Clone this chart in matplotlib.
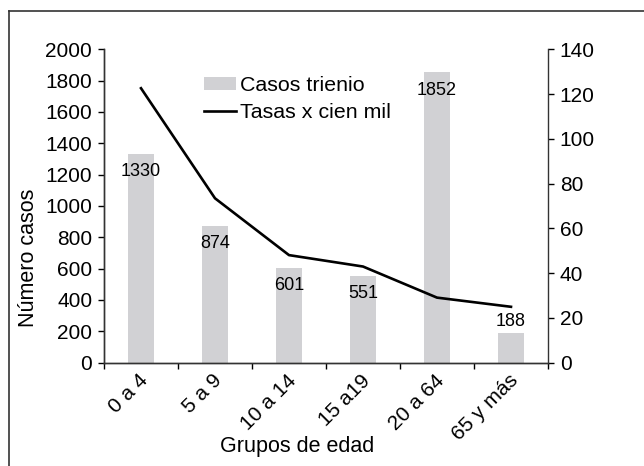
import matplotlib
matplotlib.use('Agg')
import matplotlib.pyplot as plt
import matplotlib.transforms as mtransforms
import numpy as np

plt.rcParams['font.family'] = ['Liberation Sans', 'DejaVu Sans']

# data
grupos = ["0 a 4", "5 a 9", "10 a 14", "15 a19", "20 a 64", "65 y más"]
casos = [1330, 874, 601, 551, 1852, 188]
tasas = [122.6, 73.4, 48.0, 42.9, 29.0, 24.9]

fig = plt.figure(figsize=(6.44, 4.66), dpi=100)
ax = fig.add_axes([104 / 644, 1 - 362.5 / 466, 444 / 644, 313.2 / 466])
ax2 = ax.twinx()

x = np.arange(len(grupos))
ax.bar(x, casos, width=0.36, color='#d1d1d4', label='Casos trienio', zorder=1)
ax2.plot(x, tasas, color='black', linewidth=1.9, label='Tasas x cien mil')

for xi, v in zip(x, casos):
    if v > 300:
        ax.annotate(str(v), (xi, v), xytext=(0, -6.5), textcoords='offset points',
                    ha='center', va='top', fontsize=13)
    else:
        ax.annotate(str(v), (xi, v), xytext=(0, 2), textcoords='offset points',
                    ha='center', va='bottom', fontsize=13)

ax.set_xlim(-0.5, 5.5)
ax.set_ylim(0, 2000)
ax2.set_ylim(0, 140)
ax.set_yticks(range(0, 2001, 200))
ax2.set_yticks(range(0, 141, 20))

# tick marks at category borders, labels at centres
ax.set_xticks(x)
ax.set_xticks(np.arange(-0.5, 6, 1), minor=True)
ax.tick_params(axis='x', which='major', length=0, pad=6)
ax.tick_params(axis='x', which='minor', length=4.5, width=1, direction='out')
ax.set_xticklabels(grupos, rotation=45, ha='right', fontsize=15)
offset = mtransforms.ScaledTranslation(11 / 100, 0, fig.dpi_scale_trans)
for lbl in ax.get_xticklabels():
    lbl.set_transform(lbl.get_transform() + offset)

ax.tick_params(axis='y', length=4.5, width=1, labelsize=15, pad=4)
ax2.tick_params(axis='y', length=4.5, width=1, labelsize=15, pad=4)

for a in (ax, ax2):
    a.spines['top'].set_visible(False)
    for s in a.spines.values():
        s.set_color('#333333')
        s.set_linewidth(1)
ax.spines['right'].set_visible(False)

ax.set_ylabel('Número casos', fontsize=15.5)
ax.yaxis.set_label_coords(-0.146, 0.335)
ax.set_xlabel('Grupos de edad', fontsize=15.5)
ax.xaxis.set_label_coords(0.436, -0.236)

h1, l1 = ax.get_legend_handles_labels()
h2, l2 = ax2.get_legend_handles_labels()
ax2.legend(h1 + h2, l1 + l2, loc='upper left', bbox_to_anchor=(0.225, 0.915),
           frameon=False, fontsize=15.4, handlelength=1.5, handleheight=0.55,
           handletextpad=0.2, labelspacing=0.4, borderaxespad=0, borderpad=0)

# outer frame (cut at right and bottom in the reference)
fig.add_artist(plt.Line2D([9 / 644, 9 / 644], [0, 1 - 11 / 466], color='#333333',
                          linewidth=1.2, transform=fig.transFigure))
fig.add_artist(plt.Line2D([9 / 644, 1], [1 - 11 / 466, 1 - 11 / 466], color='#333333',
                          linewidth=1.2, transform=fig.transFigure))

fig.savefig('out.png', dpi=100)
